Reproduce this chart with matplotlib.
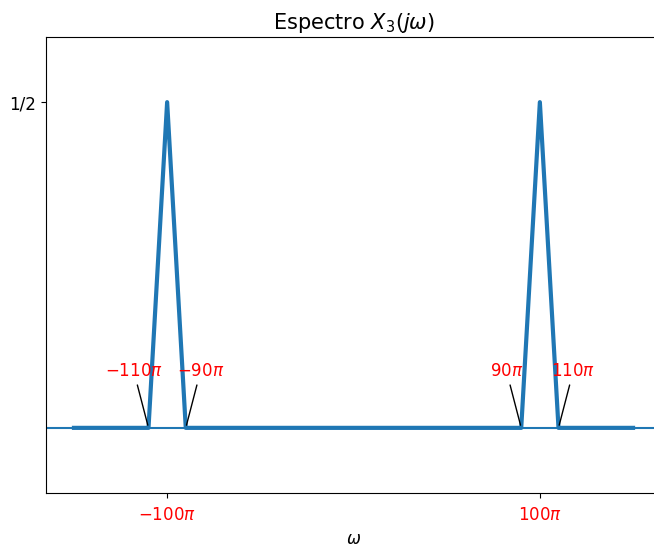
import numpy as np
import matplotlib.pyplot as plt

# spectrum points (in units of pi)
w_pi = [-150, -110, -100, -90, 90, 100, 110, 150]
X3 = [0, 0, 0.5, 0, 0, 0.5, 0, 0]

tick_pi = [-100, 100]
tick_labels = [r'$-100\pi$', r'$100\pi$']

notes = [r'$-110\pi$', r'$-90\pi$', r'$90\pi$', r'$110\pi$']
note_at = [-110, -90, 90, 110]
note_txt = [-118, -82, 82, 118]

w = np.array(w_pi) * np.pi

fig = plt.figure(figsize=(6.54, 5.49), dpi=100)
ax = fig.add_axes([46/654, 1 - 493/549, 615/654, 456/549])

ax.plot(w, X3, lw=3)
ax.axhline(0, lw=1.5)

for t, a, b in zip(notes, note_at, note_txt):
    ax.annotate(t, xy=(a*np.pi, 0), xytext=(b*np.pi, 0.088),
                ha='center', va='center', color='red', fontsize=12,
                arrowprops=dict(arrowstyle='-', color='black'))

ax.set_xticks(np.array(tick_pi) * np.pi)
ax.set_xticklabels(tick_labels, color='red', fontsize=12)
ax.set_yticks([0.5])
ax.set_yticklabels(['1/2'], fontsize=12)
ax.tick_params(axis='x', pad=6)
ax.set_xlim(-165*np.pi, 165*np.pi)
ax.set_ylim(-0.1, 0.6)
ax.set_xlabel(r'$\omega$', fontsize=12, labelpad=4)
ax.set_title(r'Espectro $X_3(j\omega)$', fontsize=15)

fig.savefig('out.png', dpi=100)
